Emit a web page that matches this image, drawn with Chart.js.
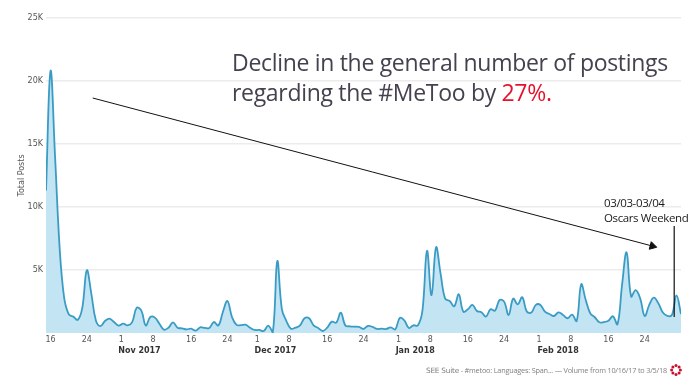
<!DOCTYPE html>
<html lang="en">
<head>
  <meta charset="UTF-8">
  <title>#MeToo postings</title>
  <script src="https://cdn.jsdelivr.net/npm/chart.js"></script>
  <style>
    body { margin: 0; background: #fff; }
    #wrap { position: relative; width: 700px; height: 390px; overflow: hidden; }
    .note { position: absolute; white-space: nowrap; font-family: "Open Sans", sans-serif; }
    #headline { left: 232px; top: 47px; font-size: 23px; line-height: 30px; color: #46414f; letter-spacing: -0.31px; }
    #headline b { font-weight: normal; color: #e8112d; }
    #oscars { left: 604px; top: 195px; font-size: 11.5px; line-height: 15px; color: #1a1a1a; letter-spacing: -0.38px; }
    #source { left: 426px; top: 364px; font-size: 7.3px; line-height: 12px; color: #808080; letter-spacing: -0.2px; }
    #source span { font-family: "DejaVu Sans", sans-serif; }
    #logo { position: absolute; left: 670px; top: 364px; }
  </style>
</head>
<body>
  <div id="wrap">
    <canvas id="postsChart" width="700" height="390"></canvas>
    <div class="note" id="headline">Decline in the general number of postings<br>regarding the #MeToo by <b>27%.</b></div>
    <div class="note" id="oscars">03/03-03/04<br>Oscars Weekend</div>
    <div class="note" id="source"><span>SEE Suite</span> - #metoo: Languages: Span... — Volume from 10/16/17 to 3/5/18</div>
    <svg id="logo" width="12" height="12" viewBox="0 0 12 12" fill="#c8102e">
      <circle cx="6" cy="1.6" r="1.5"/><circle cx="9.1" cy="2.9" r="1.5"/><circle cx="10.4" cy="6" r="1.5"/><circle cx="9.1" cy="9.1" r="1.5"/>
      <circle cx="6" cy="10.4" r="1.5"/><circle cx="2.9" cy="9.1" r="1.5"/><circle cx="1.6" cy="6" r="1.5"/><circle cx="2.9" cy="2.9" r="1.5"/>
    </svg>
  </div>

  <script>
    // daily totals, first value is Oct 15 2017, day numbers count from Oct 16
    const totalPosts = [
      11300, 20800, 14000, 6800, 2800, 1500, 1300, 1050, 2000, 4980, 3100, 1000, 550, 950, 1140, 870, 580, 740,
      600, 870, 2000, 1800, 600, 1270, 1220, 740, 265, 420, 850, 420, 370, 290, 340, 185, 450, 400, 400, 870,
      600, 1670, 2540, 1270, 640, 620, 660, 420, 240, 240, 160, 580, 50, 5700, 1900, 950, 340, 420, 600, 1170,
      1170, 610, 400, 160, 420, 900, 820, 1620, 600, 530, 500, 480, 320, 560, 480, 320, 340, 320, 450, 290,
      1190, 1000, 400, 610, 610, 1800, 6520, 3000, 6800, 4700, 2730, 2540, 2120, 3070, 1700, 1880, 2230, 1750,
      1640, 1300, 1880, 1780, 2620, 2490, 1430, 2730, 2280, 2840, 1700, 1620, 2230, 2230, 1700, 1510, 1350, 1640,
      1430, 1170, 1460, 950, 3870, 2620, 1560, 1250, 850, 870, 980, 1325, 690, 3800, 6410, 2900, 3400, 2750,
      1350, 2230, 2800, 2360, 1620, 1350, 1430, 2990, 1510
    ];

    const dayLabels = ['16', '24', '1', '8', '16', '24', '1', '8', '16', '24', '1', '8', '16', '24', '1', '8', '16', '24'];
    const dayTicks = [0, 8, 15.6, 22.6, 31, 39, 45.6, 52.6, 61, 69, 76.7, 83.7, 92, 100, 107.7, 114.7, 123, 131];
    const monthLabels = ['Nov 2017', 'Dec 2017', 'Jan 2018', 'Feb 2018'];
    const monthTicks = [19.6, 49.6, 80.4, 111.9];

    const trendDays = [9.3, 132.7];
    const trendValues = [18650, 6900];
    const oscarsDays = [137.5, 137.5];
    const oscarsValues = [8500, 1270];

    const toPoints = (xs, ys) => xs.map((x, i) => ({ x: x, y: ys[i] }));

    new Chart(document.getElementById('postsChart'), {
      type: 'line',
      data: {
        datasets: [
          {
            data: toPoints(trendDays, trendValues),
            borderColor: '#111',
            backgroundColor: '#111',
            borderWidth: 1,
            tension: 0,
            pointStyle: 'triangle',
            pointRadius: [0, 4.5],
            pointRotation: 105,
            order: 1
          },
          {
            data: toPoints(oscarsDays, oscarsValues),
            borderColor: '#111',
            borderWidth: 1.2,
            tension: 0,
            pointRadius: 0,
            order: 1
          },
          {
            data: totalPosts.map((v, i) => ({ x: i - 1, y: v })),
            borderColor: '#3a9cc4',
            backgroundColor: '#c3e4f3',
            borderWidth: 1.8,
            fill: 'origin',
            tension: 0.4,
            pointRadius: 0,
            order: 2
          }
        ]
      },
      options: {
        responsive: false,
        animation: false,
        layout: { padding: { top: 18, right: 19, left: 17 } },
        plugins: { legend: { display: false }, tooltip: { enabled: false } },
        scales: {
          x: {
            type: 'linear',
            min: -1,
            max: 139,
            grid: { display: false, drawTicks: false },
            border: { display: false },
            afterBuildTicks: s => { s.ticks = dayTicks.map(v => ({ value: v })); },
            afterFit: s => { s.height = 13; },
            ticks: {
              autoSkip: false,
              maxRotation: 0,
              padding: 2,
              color: '#555',
              font: { family: 'DejaVu Sans', size: 8 },
              callback: (v, i) => dayLabels[i]
            }
          },
          months: {
            type: 'linear',
            position: 'bottom',
            min: -1,
            max: 139,
            grid: { display: false, drawTicks: false },
            border: { display: false },
            afterBuildTicks: s => { s.ticks = monthTicks.map(v => ({ value: v })); },
            afterFit: s => { s.height = 44; },
            ticks: {
              autoSkip: false,
              maxRotation: 0,
              padding: 0,
              color: '#333',
              font: { family: 'DejaVu Sans', size: 8, weight: 'bold' },
              callback: (v, i) => monthLabels[i]
            }
          },
          y: {
            min: 0,
            max: 25000,
            afterFit: s => { s.width = 29; },
            border: { display: false },
            grid: {
              color: c => c.tick.value === 0 ? 'transparent' : '#ececec',
              lineWidth: 1.6,
              drawTicks: false
            },
            ticks: {
              stepSize: 5000,
              padding: 3,
              color: '#555',
              font: { family: 'DejaVu Sans', size: 8 },
              callback: v => v === 0 ? '' : (v / 1000) + 'K'
            },
            title: {
              display: true,
              text: 'Total Posts',
              color: '#555',
              padding: 0,
              font: { family: 'DejaVu Sans', size: 8 }
            }
          }
        }
      }
    });
  </script>
</body>
</html>
